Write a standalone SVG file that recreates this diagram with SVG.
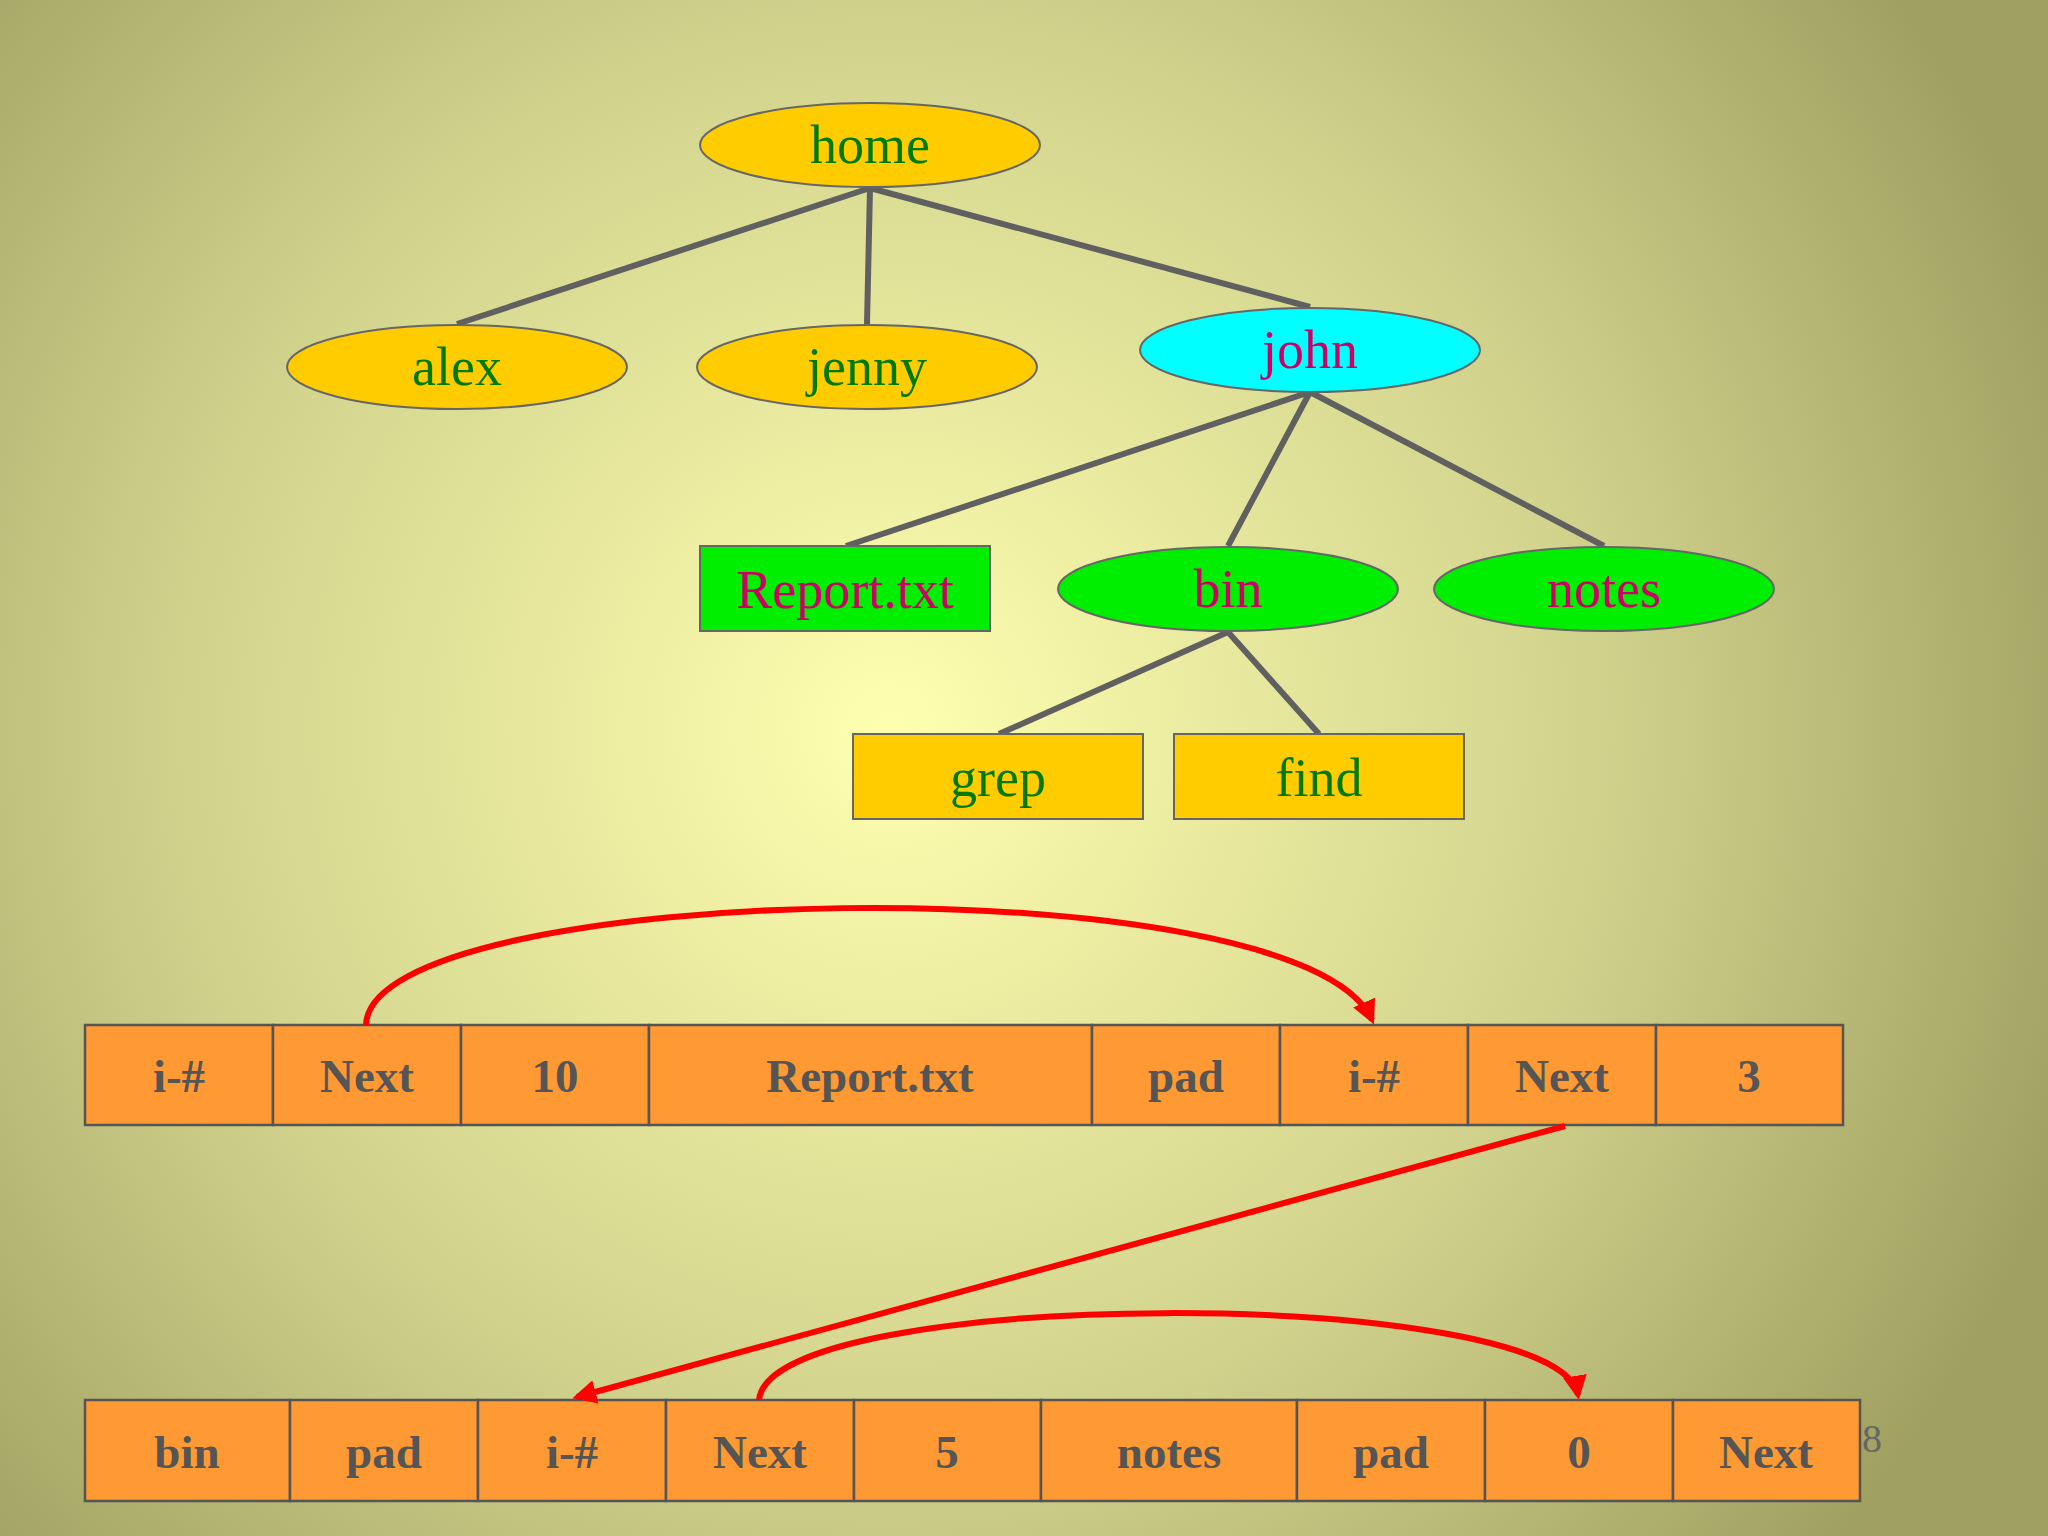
<svg xmlns="http://www.w3.org/2000/svg" width="2048" height="1536" viewBox="0 0 2048 1536">
<defs>
<radialGradient id="bg" cx="890" cy="730" r="1250" gradientUnits="userSpaceOnUse">
<stop offset="0" stop-color="#ffffb0"/><stop offset="0.55" stop-color="#d2d48e"/><stop offset="1" stop-color="#a0a060"/>
</radialGradient>
<marker id="ah" viewBox="0 0 10 10" refX="8" refY="5" markerWidth="4" markerHeight="4" orient="auto"><path d="M0,0L10,5L0,10z" fill="#ff0000"/></marker>
<style>
.n{stroke:#666;stroke-width:2}
.t{font-family:"Liberation Serif",serif;font-size:54px;text-anchor:middle}
.g{fill:#007a00}.m{fill:#cc0066}
.e{stroke:#606060;stroke-width:6;fill:none}
.c{fill:#ff9933;stroke:#555;stroke-width:2.5}
.ct{font-family:"Liberation Serif",serif;font-size:47px;font-weight:bold;fill:#555;text-anchor:middle}
.r{stroke:#ff0000;stroke-width:6;fill:none;marker-end:url(#ah)}
</style>
</defs>
<rect width="2048" height="1536" fill="url(#bg)"/>
<g id="edges">
<path class="e" d="M870,188L457,324M870,188L867,324M870,188L1310,307M1310,392L846,546M1310,392L1228,546M1310,392L1604,546M1228,632L999,734M1228,632L1319,734"/>
</g>
<g id="home"><ellipse class="n" cx="870" cy="145" rx="170" ry="42" fill="#ffcc00"/><text class="t g" x="870" y="163">home</text></g>
<g id="alex"><ellipse class="n" cx="457" cy="367" rx="170" ry="42" fill="#ffcc00"/><text class="t g" x="457" y="385">alex</text></g>
<g id="jenny"><ellipse class="n" cx="867" cy="367" rx="170" ry="42" fill="#ffcc00"/><text class="t g" x="867" y="385">jenny</text></g>
<g id="john"><ellipse class="n" cx="1310" cy="350" rx="170" ry="42" fill="#00ffff"/><text class="t m" x="1310" y="368">john</text></g>
<g id="report"><rect class="n" x="700" y="546" width="290" height="85" fill="#00ee00"/><text class="t m" x="845" y="608">Report.txt</text></g>
<g id="bin"><ellipse class="n" cx="1228" cy="589" rx="170" ry="42" fill="#00ee00"/><text class="t m" x="1228" y="607">bin</text></g>
<g id="notes"><ellipse class="n" cx="1604" cy="589" rx="170" ry="42" fill="#00ee00"/><text class="t m" x="1604" y="607">notes</text></g>
<g id="grep"><rect class="n" x="853" y="734" width="290" height="85" fill="#ffcc00"/><text class="t g" x="998" y="796">grep</text></g>
<g id="find"><rect class="n" x="1174" y="734" width="290" height="85" fill="#ffcc00"/><text class="t g" x="1319" y="796">find</text></g>
<text x="1862" y="1452" font-family="Liberation Serif,serif" font-size="40" fill="#666">8</text>
<g id="row1">
<rect class="c" x="85" y="1025" width="188" height="100"/><text class="ct" x="179" y="1092">i-#</text>
<rect class="c" x="273" y="1025" width="188" height="100"/><text class="ct" x="367" y="1092">Next</text>
<rect class="c" x="461" y="1025" width="188" height="100"/><text class="ct" x="555" y="1092">10</text>
<rect class="c" x="649" y="1025" width="443" height="100"/><text class="ct" x="870" y="1092">Report.txt</text>
<rect class="c" x="1092" y="1025" width="188" height="100"/><text class="ct" x="1186" y="1092">pad</text>
<rect class="c" x="1280" y="1025" width="188" height="100"/><text class="ct" x="1374" y="1092">i-#</text>
<rect class="c" x="1468" y="1025" width="188" height="100"/><text class="ct" x="1562" y="1092">Next</text>
<rect class="c" x="1656" y="1025" width="187" height="100"/><text class="ct" x="1749" y="1092">3</text>
</g>
<g id="row2">
<rect class="c" x="85" y="1400" width="205" height="101"/><text class="ct" x="187" y="1468">bin</text>
<rect class="c" x="290" y="1400" width="188" height="101"/><text class="ct" x="384" y="1468">pad</text>
<rect class="c" x="478" y="1400" width="188" height="101"/><text class="ct" x="572" y="1468">i-#</text>
<rect class="c" x="666" y="1400" width="188" height="101"/><text class="ct" x="760" y="1468">Next</text>
<rect class="c" x="854" y="1400" width="187" height="101"/><text class="ct" x="947" y="1468">5</text>
<rect class="c" x="1041" y="1400" width="256" height="101"/><text class="ct" x="1169" y="1468">notes</text>
<rect class="c" x="1297" y="1400" width="188" height="101"/><text class="ct" x="1391" y="1468">pad</text>
<rect class="c" x="1485" y="1400" width="188" height="101"/><text class="ct" x="1579" y="1468">0</text>
<rect class="c" x="1673" y="1400" width="187" height="101"/><text class="ct" x="1766" y="1468">Next</text>
</g>
<g id="links">
<path class="r" d="M366,1025C370,880 1300,860 1372,1020"/>
<path class="r" d="M1565,1126L577,1397"/>
<path class="r" d="M759,1400C770,1285 1560,1285 1578,1395"/>
</g>
</svg>
